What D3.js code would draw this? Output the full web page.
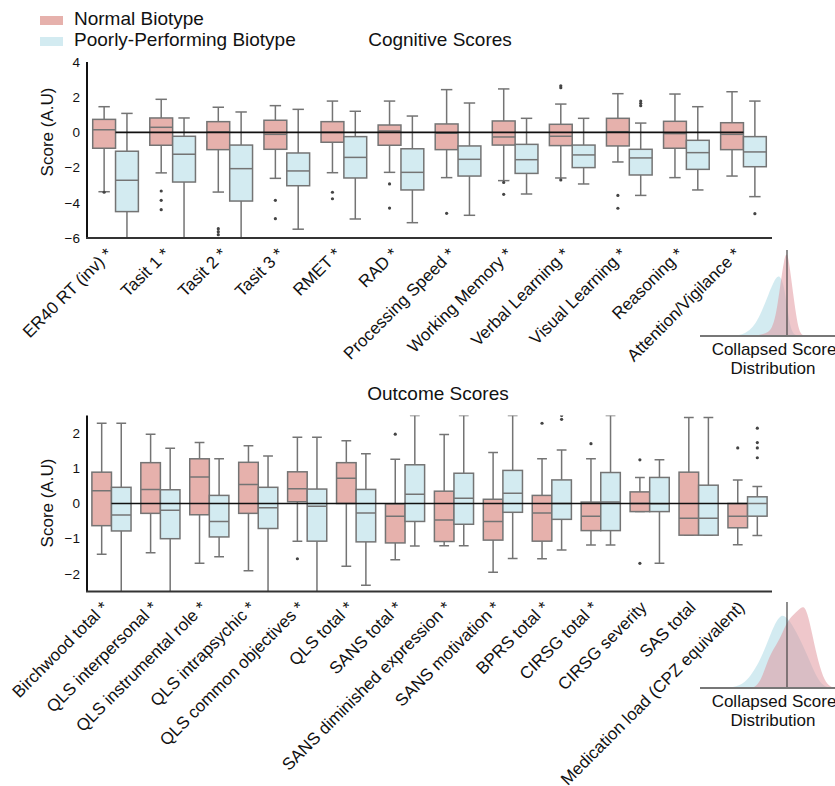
<!DOCTYPE html>
<html>
<head>
<meta charset="utf-8">
<script src="https://cdn.jsdelivr.net/npm/d3@7"></script>
<style>
  body { margin: 0; background: #fff; }
  text { font-family: "Liberation Sans", Arial, sans-serif; fill: #111; }
</style>
</head>
<body>
<div id="chart"></div>
<script>
// box stats: [whiskerLow, q1, median, q3, whiskerHigh]
var cogCats = ["ER40 RT (inv) *", "Tasit 1 *", "Tasit 2 *", "Tasit 3 *", "RMET *", "RAD *",
  "Processing Speed *", "Working Memory *", "Verbal Learning *", "Visual Learning *", "Reasoning *", "Attention/Vigilance *"];
var cogNormal = [
  [-3.37, -0.9, 0.15, 0.74, 1.46],
  [-2.3, -0.73, 0.29, 0.82, 1.88],
  [-3.39, -0.98, 0.02, 0.61, 1.43],
  [-2.61, -0.96, -0.11, 0.69, 1.52],
  [-2.29, -0.56, 0.0, 0.61, 1.78],
  [-2.27, -0.73, 0.08, 0.42, 1.78],
  [-2.57, -0.98, -0.05, 0.48, 2.43],
  [-2.74, -0.72, -0.26, 0.65, 2.47],
  [-2.59, -0.75, -0.22, 0.46, 1.61],
  [-1.68, -0.77, 0.04, 0.8, 2.2],
  [-2.57, -0.9, -0.07, 0.63, 2.18],
  [-2.48, -0.98, -0.11, 0.55, 2.31]
];
var cogNormalOut = [[-3.4], [-3.33, -3.86, -4.39], [-5.47, -5.64, -5.81], [-3.86, -4.9], [-3.4, -3.77],
  [-2.93, -4.3], [-4.6], [-2.84, -3.52], [2.65, 2.54, -2.7], [-3.58, -4.31], [], []];
var cogPoor = [
  [-7, -4.5, -2.72, -1.07, 1.08],
  [-7, -2.82, -1.24, -0.22, 0.82],
  [-7, -3.9, -2.06, -0.72, 1.16],
  [-5.5, -3.03, -2.19, -1.17, 1.31],
  [-4.92, -2.59, -1.42, -0.24, 1.2],
  [-5.13, -3.27, -2.27, -0.93, 0.93],
  [-4.71, -2.48, -1.53, -0.77, 1.67],
  [-3.5, -2.33, -1.55, -0.68, 0.8],
  [-2.93, -2.0, -1.28, -0.72, 0.8],
  [-3.58, -2.42, -1.45, -0.96, 0.53],
  [-3.27, -2.1, -1.15, -0.45, 1.46],
  [-3.65, -1.95, -1.11, -0.24, 1.78]
];
var cogPoorOut = [[], [], [], [], [], [], [], [], [], [1.78, 1.65, 1.52], [], [-4.62]];
var cogTicks = [4, 2, 0, -2, -4, -6];

var outCats = ["Birchwood total *", "QLS interpersonal *", "QLS instrumental role *", "QLS intrapsychic *",
  "QLS common objectives *", "QLS total *", "SANS total *", "SANS diminished expression *", "SANS motivation *",
  "BPRS total *", "CIRSG total *", "CIRSG severity", "SAS total", "Medication load (CPZ equivalent)"];
var outNormal = [
  [-1.44, -0.63, 0.36, 0.89, 2.28],
  [-1.4, -0.28, 0.4, 1.16, 1.97],
  [-1.7, -0.32, 0.75, 1.27, 1.73],
  [-1.91, -0.28, 0.54, 1.17, 1.64],
  [-1.07, 0.05, 0.42, 0.9, 1.88],
  [-1.78, 0.0, 0.72, 1.16, 1.78],
  [-1.6, -1.12, -0.36, -0.01, 1.26],
  [-1.2, -1.08, -0.47, 0.35, 1.96],
  [-1.95, -1.04, -0.51, 0.12, 1.45],
  [-1.57, -1.07, -0.27, 0.23, 1.27],
  [-1.18, -0.77, -0.36, 0.04, 1.27],
  [-0.23, -0.23, 0.0, 0.33, 0.74],
  [-0.9, -0.9, -0.42, 0.89, 2.44],
  [-1.17, -0.69, -0.36, 0.0, 0.67]
];
var outNormalOut = [[], [], [], [], [-1.57], [], [1.97], [], [], [2.28], [1.7], [1.24, -1.7], [], [1.58]];
var outPoor = [
  [-2.6, -0.78, -0.33, 0.46, 2.28],
  [-2.6, -1.0, -0.19, 0.39, 1.57],
  [-1.51, -0.95, -0.51, 0.23, 1.27],
  [-2.6, -0.71, -0.12, 0.46, 1.35],
  [-2.6, -1.07, -0.08, 0.41, 1.88],
  [-2.32, -1.09, -0.27, 0.4, 1.41],
  [-1.21, -0.51, 0.26, 1.1, 2.5],
  [-1.2, -0.59, 0.15, 0.86, 2.5],
  [-1.56, -0.25, 0.29, 0.94, 2.5],
  [-1.32, -0.45, 0.0, 0.67, 1.52],
  [-1.18, -0.77, 0.04, 0.88, 2.5],
  [-1.7, -0.23, -0.01, 0.74, 1.24],
  [-0.9, -0.9, -0.42, 0.52, 2.44],
  [-0.91, -0.36, 0.0, 0.19, 0.48]
];
var outPoorOut = [[], [], [], [], [], [], [], [], [], [2.5, 2.39], [], [], [], [2.14, 1.73, 1.58, 1.3]];
var outTicks = [2, 1, 0, -1, -2];

// collapsed score densities (score, relative height)
var cogDensX      = [-1.8, -1.6, -1.4, -1.2, -1.0, -0.8, -0.6, -0.5, -0.4, -0.3, -0.2, -0.1, 0, 0.1, 0.2, 0.3, 0.4, 0.5, 0.6];
var cogDensNormal = [0, 0, 0, 0, 0.01, 0.02, 0.05, 0.1, 0.2, 0.4, 0.65, 0.88, 1.0, 0.78, 0.5, 0.25, 0.06, 0.01, 0];
var cogDensPoor   = [0, 0.01, 0.03, 0.08, 0.17, 0.32, 0.5, 0.58, 0.66, 0.7, 0.68, 0.58, 0.35, 0.12, 0.03, 0.01, 0, 0, 0];
var outDensX      = [-2.0, -1.8, -1.6, -1.4, -1.2, -1.0, -0.8, -0.6, -0.4, -0.2, 0, 0.2, 0.4, 0.6, 0.8, 1.0, 1.2, 1.4, 1.6];
var outDensNormal = [0, 0, 0, 0, 0, 0.02, 0.15, 0.36, 0.48, 0.6, 0.77, 0.85, 0.91, 0.98, 0.7, 0.36, 0.12, 0.02, 0];
var outDensPoor   = [0, 0.01, 0.03, 0.07, 0.15, 0.26, 0.4, 0.58, 0.75, 0.86, 0.82, 0.72, 0.59, 0.44, 0.28, 0.12, 0.03, 0, 0];

var pinkFill = "#e6b1ac", blueFill = "#d3ebf1", lineCol = "#747474";

var svg = d3.select("#chart").append("svg")
  .attr("width", 835).attr("height", 786);

// legend
var legend = [["Normal Biotype", pinkFill], ["Poorly-Performing Biotype", blueFill]];
legend.forEach(function(l, i) {
  svg.append("rect").attr("x", 40).attr("y", 16 + i * 21).attr("width", 23).attr("height", 9).attr("fill", l[1]);
  svg.append("text").attr("x", 74).attr("y", 25 + i * 21).style("font-size", "19px").text(l[0]);
});

function panel(o) {
  var g = svg.append("g");
  var x = d3.scaleBand().domain(o.cats).range([87, 772]);
  var y = d3.scaleLinear().domain(o.domain).range([o.bottom, o.top]);
  var bw = x.bandwidth() * 0.4;

  g.append("text").attr("x", o.titleX).attr("y", o.titleY).attr("text-anchor", "middle")
    .style("font-size", "19px").text(o.title);

  var clipId = "clip" + o.id;
  g.append("clipPath").attr("id", clipId).append("rect")
    .attr("x", 87).attr("y", o.top).attr("width", 685).attr("height", o.bottom - o.top);
  var plot = g.append("g").attr("clip-path", "url(#" + clipId + ")");

  function drawBoxes(stats, outs, fill, side) {
    stats.forEach(function(s, i) {
      var x0 = x(o.cats[i]) + x.bandwidth() / 2 + (side < 0 ? -bw : 0);
      var cx = x0 + bw / 2;
      var bg = plot.append("g").attr("stroke", lineCol).attr("stroke-width", 1.5);
      bg.append("line").attr("x1", cx).attr("x2", cx).attr("y1", y(s[0])).attr("y2", y(s[1]));
      bg.append("line").attr("x1", cx).attr("x2", cx).attr("y1", y(s[3])).attr("y2", y(s[4]));
      bg.append("line").attr("x1", cx - bw / 4).attr("x2", cx + bw / 4).attr("y1", y(s[0])).attr("y2", y(s[0]));
      bg.append("line").attr("x1", cx - bw / 4).attr("x2", cx + bw / 4).attr("y1", y(s[4])).attr("y2", y(s[4]));
      bg.append("rect").attr("x", x0).attr("width", bw)
        .attr("y", y(s[3])).attr("height", Math.max(0.5, y(s[1]) - y(s[3]))).attr("fill", fill);
      bg.append("line").attr("x1", x0).attr("x2", x0 + bw).attr("y1", y(s[2])).attr("y2", y(s[2]));
      outs[i].forEach(function(v) {
        bg.append("circle").attr("cx", cx).attr("cy", y(v)).attr("r", 1.6)
          .attr("fill", "#444").attr("stroke", "none");
      });
    });
  }
  drawBoxes(o.normal, o.normalOut, pinkFill, -1);
  drawBoxes(o.poor, o.poorOut, blueFill, 1);

  // zero reference line
  g.append("line")
    .attr("x1", x(o.cats[0]) + x.bandwidth() / 2)
    .attr("x2", x(o.cats[o.cats.length - 1]) + x.bandwidth() / 2)
    .attr("y1", y(0)).attr("y2", y(0)).attr("stroke", "#111").attr("stroke-width", 1.6);

  // spines
  g.append("line").attr("x1", 87).attr("x2", 87).attr("y1", o.top).attr("y2", o.bottom)
    .attr("stroke", "#111").attr("stroke-width", 2);
  g.append("line").attr("x1", 86).attr("x2", 772).attr("y1", o.bottom).attr("y2", o.bottom)
    .attr("stroke", "#333").attr("stroke-width", 2.2);

  o.ticks.forEach(function(t) {
    g.append("text").attr("x", 80).attr("y", y(t)).attr("dy", "0.35em").attr("text-anchor", "end")
      .style("font-size", "13.5px").text(t < 0 ? "\u2212" + (-t) : t);
  });
  g.append("text").attr("transform", "translate(53," + o.labelY + ") rotate(-90)")
    .attr("text-anchor", "middle").style("font-size", "17px").text("Score (A.U)");

  o.cats.forEach(function(c) {
    var cx = x(c) + x.bandwidth() / 2 - 2;
    g.append("text").attr("transform", "translate(" + cx + "," + (o.bottom + 17) + ") rotate(-45)")
      .attr("text-anchor", "end").style("font-size", "17px").text(c);
  });

  // collapsed distribution inset
  var dx = d3.scaleLinear().domain([-2.9, 1.6]).range([700, 835]);
  var dy = d3.scaleLinear().domain([0, 1]).range([o.densBase, o.densBase - 86]);
  var area = d3.area().curve(d3.curveBasis)
    .x(function(d) { return dx(d[0]); }).y0(dy(0)).y1(function(d) { return dy(d[1]); });
  g.append("path").datum(d3.zip(o.densX, o.densPoor)).attr("d", area)
    .attr("fill", "#aedbe6").attr("fill-opacity", 0.55);
  g.append("path").datum(d3.zip(o.densX, o.densNormal)).attr("d", area)
    .attr("fill", "#df8f98").attr("fill-opacity", 0.5);
  g.append("line").attr("x1", dx(0)).attr("x2", dx(0)).attr("y1", o.densBase - 86).attr("y2", o.densBase)
    .attr("stroke", "#444").attr("stroke-width", 1.2);
  g.append("line").attr("x1", 700).attr("x2", 835).attr("y1", o.densBase).attr("y2", o.densBase)
    .attr("stroke", "#777").attr("stroke-width", 2);
  g.append("text").attr("x", 774).attr("y", o.densBase + 19).attr("text-anchor", "middle")
    .style("font-size", "17px").text("Collapsed Score");
  g.append("text").attr("x", 773).attr("y", o.densBase + 38).attr("text-anchor", "middle")
    .style("font-size", "17px").text("Distribution");
}

panel({
  id: "cog", title: "Cognitive Scores", titleX: 440, titleY: 46,
  cats: cogCats, normal: cogNormal, normalOut: cogNormalOut, poor: cogPoor, poorOut: cogPoorOut,
  domain: [-6, 4], top: 62, bottom: 238, ticks: cogTicks, labelY: 132,
  densX: cogDensX, densNormal: cogDensNormal, densPoor: cogDensPoor, densBase: 336
});
panel({
  id: "out", title: "Outcome Scores", titleX: 438, titleY: 400,
  cats: outCats, normal: outNormal, normalOut: outNormalOut, poor: outPoor, poorOut: outPoorOut,
  domain: [-2.5, 2.5], top: 415.5, bottom: 591.5, ticks: outTicks, labelY: 503,
  densX: outDensX, densNormal: outDensNormal, densPoor: outDensPoor, densBase: 688
});
</script>
</body>
</html>
